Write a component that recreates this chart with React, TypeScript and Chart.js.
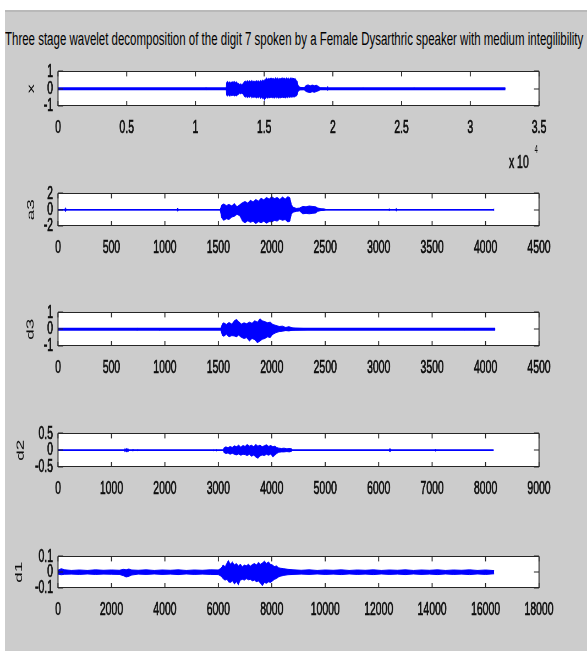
import React, { useEffect, useLayoutEffect, useRef } from "react";
import { Chart, registerables } from "chart.js";

Chart.register(...registerables);

// ---------------- DATA ----------------
const TITLE =
  "Three stage wavelet decomposition of the digit 7 spoken by a Female Dysarthric speaker with medium integilibility";

// subplot 1: x  (sample index, upper / lower envelope of the waveform)
const X_T = [
  0, 10740, 10760, 10780, 12230,
  12260, 12340, 12420, 12500, 12580, 12660, 12740, 12820, 12900, 12980,
  13060, 13140, 13220, 13300, 13380, 13460, 13540, 13620, 13700, 13780,
  13860, 13940, 14020, 14100, 14180, 14260, 14340, 14420, 14500, 14580,
  14660, 14740, 14820, 14900, 14980, 15020, 15100, 15180, 15260, 15340,
  15420, 15500, 15580, 15660, 15740, 15820, 15900, 15980, 16060, 16140,
  16220, 16300, 16380, 16460, 16540, 16620, 16700, 16780, 16860, 16940,
  17020, 17100, 17180, 17260, 17340, 17420, 17480,
  17600, 17900, 18050, 18200, 18350, 18500, 18650, 18800, 18950, 19100,
  19500, 19590, 19610, 19630, 22180, 22200, 22220, 25880, 25900, 25920, 32550,
];
const X_UP = [
  0, 0, 0.06, 0, 0,
  0.36, 0.42, 0.34, 0.4, 0.33, 0.41, 0.36, 0.43, 0.35, 0.4,
  0.32, 0.3, 0.24, 0.28, 0.22, 0.3, 0.38, 0.45, 0.39, 0.47,
  0.4, 0.46, 0.41, 0.48, 0.4, 0.45, 0.39, 0.47, 0.42, 0.46,
  0.4, 0.48, 0.43, 0.5, 0.45, 0.5, 0.55, 0.62, 0.54, 0.6,
  0.55, 0.63, 0.56, 0.6, 0.54, 0.64, 0.57, 0.62, 0.55, 0.6,
  0.56, 0.64, 0.58, 0.62, 0.55, 0.63, 0.57, 0.61, 0.55, 0.64,
  0.58, 0.62, 0.55, 0.6, 0.48, 0.42, 0.18,
  0.08, 0.05, 0.18, 0.22, 0.16, 0.21, 0.17, 0.2, 0.13, 0.04,
  0.03, 0, 0.12, 0, 0, 0.05, 0, 0, 0.05, 0, 0,
];
const X_LO = [
  0, 0, -0.06, 0, 0,
  -0.38, -0.42, -0.36, -0.44, -0.37, -0.41, -0.35, -0.43, -0.38, -0.42,
  -0.36, -0.32, -0.26, -0.3, -0.25, -0.32, -0.42, -0.5, -0.44, -0.52,
  -0.46, -0.5, -0.44, -0.53, -0.47, -0.51, -0.45, -0.55, -0.48, -0.53,
  -0.47, -0.56, -0.5, -0.58, -0.52, -0.68, -0.56, -0.5, -0.55, -0.49,
  -0.54, -0.47, -0.53, -0.5, -0.55, -0.48, -0.53, -0.49, -0.55, -0.5,
  -0.54, -0.47, -0.52, -0.49, -0.54, -0.48, -0.52, -0.47, -0.51, -0.46,
  -0.5, -0.45, -0.49, -0.44, -0.42, -0.35, -0.15,
  -0.06, -0.05, -0.16, -0.2, -0.22, -0.17, -0.21, -0.16, -0.12, -0.04,
  -0.03, 0, -0.1, 0, 0, -0.04, 0, 0, -0.04, 0, 0,
];
const X_END = 32550;

// subplot 2: a3
const A3_T = [
  0, 60, 70, 80, 1110, 1120, 1130, 1515,
  1530, 1550, 1575, 1600, 1625, 1650, 1675, 1700, 1725, 1750,
  1775, 1800, 1825, 1850, 1875, 1900, 1925, 1950, 1975, 2000,
  2025, 2050, 2075, 2100, 2125, 2150, 2170, 2185,
  2200, 2230, 2260, 2290, 2320, 2350, 2380, 2410, 2430, 2460, 2490, 2510,
  3090, 3100, 3110, 3155, 3165, 3175, 4070, 4080,
];
const A3_UP = [
  0, 0, 0.25, 0, 0, 0.2, 0, 0,
  0.55, 0.7, 0.5, 0.65, 0.45, 0.75, 0.35, 0.6, 0.85, 1.0,
  0.8, 1.15, 0.95, 1.25, 1.05, 1.4, 1.2, 1.5, 1.3, 1.6,
  1.35, 1.5, 1.25, 1.55, 1.3, 1.6, 1.45, 0.6,
  0.3, 0.15, 0.2, 0.4, 0.35, 0.45, 0.4, 0.35, 0.2, 0.12, 0.1, 0,
  0, 0.1, 0, 0, 0.15, 0, 0, 0.1,
];
const A3_LO = [
  0, 0, -0.25, 0, 0, -0.2, 0, 0,
  -1.0, -1.3, -1.1, -1.2, -0.9, -0.8, -0.55, -0.75, -1.4, -1.6,
  -1.35, -1.55, -1.4, -1.7, -1.45, -1.6, -1.4, -1.65, -1.45, -1.5,
  -1.3, -1.4, -1.15, -1.3, -1.2, -1.5, -1.4, -0.5,
  -0.3, -0.2, -0.15, -0.5, -0.45, -0.5, -0.45, -0.4, -0.2, -0.1, -0.08, 0,
  0, -0.1, 0, 0, -0.15, 0, 0, -0.1,
];
const A3_END = 4080;

// subplot 3: d3
const D3_T = [
  0, 730, 740, 750, 940, 950, 960, 1520,
  1535, 1550, 1575, 1600, 1625, 1650, 1670, 1690, 1715, 1740,
  1765, 1790, 1815, 1840, 1865, 1890, 1910, 1935, 1960, 1985,
  2010, 2040, 2070, 2100, 2130, 2160, 2190, 2220, 2260, 2300, 2330, 2345,
  3790, 3800, 3810, 4090,
];
const D3_UP = [
  0, 0, 0.05, 0, 0, 0.05, 0, 0,
  0.3, 0.38, 0.28, 0.4, 0.3, 0.5, 0.58, 0.45, 0.3, 0.38,
  0.32, 0.42, 0.35, 0.5, 0.42, 0.62, 0.5, 0.45, 0.38, 0.42,
  0.28, 0.22, 0.16, 0.18, 0.1, 0.15, 0.08, 0.06, 0.05, 0.04, 0.03, 0,
  0, 0.04, 0, 0,
];
const D3_LO = [
  0, 0, -0.05, 0, 0, -0.05, 0, 0,
  -0.35, -0.42, -0.3, -0.45, -0.38, -0.4, -0.45, -0.35, -0.48, -0.55,
  -0.5, -0.7, -0.55, -0.62, -0.8, -0.7, -0.6, -0.55, -0.45, -0.5,
  -0.3, -0.2, -0.14, -0.12, -0.08, -0.1, -0.06, -0.05, -0.04, -0.03, -0.02, 0,
  0, -0.04, 0, 0,
];
const D3_END = 4090;

// subplot 4: d2
const D2_T = [
  0, 1240, 1250, 1265, 1280, 1295, 1310, 1330, 1395, 1400,
  1405, 1485, 1490, 1495, 2895, 2905, 2915, 2955, 2965, 2975,
  3090, 3100, 3140, 3180, 3220, 3260, 3300, 3340, 3380, 3420,
  3460, 3500, 3540, 3580, 3620, 3660, 3700, 3740, 3780, 3820,
  3860, 3900, 3940, 3980, 4020, 4060, 4090, 4130, 4180, 4230,
  4280, 4330, 4370, 4390,
  6195, 6205, 6215, 6225, 6235, 7055, 7060, 7065, 8150,
];
const D2_UP = [
  0, 0, 0.05, 0.02, 0.05, 0.03, 0.05, 0, 0, 0.03,
  0, 0, 0.02, 0, 0, 0.02, 0, 0, 0.02, 0,
  0, 0.06, 0.1, 0.07, 0.11, 0.08, 0.13, 0.1, 0.15, 0.09,
  0.14, 0.11, 0.17, 0.12, 0.15, 0.1, 0.17, 0.12, 0.15, 0.1,
  0.13, 0.16, 0.11, 0.14, 0.1, 0.12, 0.08, 0.06, 0.05, 0.06,
  0.04, 0.05, 0.04, 0,
  0, 0.05, 0, 0.05, 0, 0, 0.03, 0, 0,
];
const D2_LO = [
  0, 0, -0.05, -0.02, -0.05, -0.03, -0.05, 0, 0, -0.03,
  0, 0, -0.02, 0, 0, -0.02, 0, 0, -0.02, 0,
  0, -0.06, -0.1, -0.08, -0.12, -0.09, -0.12, -0.14, -0.11, -0.15,
  -0.12, -0.13, -0.16, -0.12, -0.18, -0.14, -0.2, -0.24, -0.17, -0.14,
  -0.16, -0.12, -0.15, -0.11, -0.2, -0.14, -0.1, -0.06, -0.05, -0.05,
  -0.04, -0.05, -0.03, 0,
  0, -0.05, 0, -0.05, 0, 0, -0.03, 0, 0,
];
const D2_END = 8150;

// subplot 5: d1
const D1_T = [
  0, 120, 250, 500, 800, 1100, 1400, 1700, 2000, 2300,
  2450, 2550, 2650, 2750, 3000, 3300, 3600, 3900, 4200, 4500,
  4800, 5100, 5400, 5700, 6000,
  6100, 6175, 6250, 6325, 6375, 6450, 6525, 6600, 6675, 6750,
  6825, 6900, 6975, 7050, 7125, 7200, 7275, 7350, 7425, 7500,
  7575, 7650, 7725, 7800, 7875, 7950, 8025, 8100, 8175, 8250, 8325,
  8450, 8600, 8800, 9100, 9400, 9700, 10000, 10300, 10600, 10900,
  11200, 11500, 11800, 12100, 12400, 12700, 13000, 13300, 13600, 13900,
  14200, 14500, 14800, 15100, 15400, 15700, 16000, 16320,
];
const D1_UP = [
  0.012, 0.022, 0.015, 0.011, 0.014, 0.011, 0.015, 0.012, 0.014, 0.012,
  0.018, 0.015, 0.02, 0.014, 0.012, 0.015, 0.011, 0.014, 0.012, 0.015,
  0.011, 0.014, 0.012, 0.015, 0.014,
  0.025, 0.045, 0.035, 0.06, 0.075, 0.05, 0.065, 0.045, 0.055, 0.04,
  0.05, 0.035, 0.045, 0.04, 0.05, 0.038, 0.048, 0.055, 0.045, 0.062,
  0.05, 0.058, 0.07, 0.055, 0.065, 0.05, 0.045, 0.035, 0.04, 0.028, 0.025,
  0.022, 0.018, 0.015, 0.012, 0.015, 0.011, 0.014, 0.012, 0.015, 0.011,
  0.014, 0.012, 0.015, 0.011, 0.014, 0.012, 0.015, 0.011, 0.014, 0.012,
  0.015, 0.011, 0.014, 0.012, 0.015, 0.011, 0.014, 0.01,
];
const D1_LO = [
  -0.012, -0.016, -0.013, -0.012, -0.014, -0.011, -0.014, -0.012, -0.013, -0.014,
  -0.022, -0.03, -0.026, -0.018, -0.012, -0.014, -0.011, -0.014, -0.012, -0.015,
  -0.011, -0.014, -0.012, -0.014, -0.015,
  -0.025, -0.04, -0.05, -0.045, -0.06, -0.065, -0.055, -0.075, -0.06, -0.08,
  -0.05, -0.045, -0.05, -0.04, -0.048, -0.045, -0.055, -0.05, -0.06, -0.055,
  -0.07, -0.085, -0.065, -0.07, -0.06, -0.065, -0.055, -0.045, -0.04, -0.03, -0.025,
  -0.02, -0.016, -0.014, -0.012, -0.014, -0.011, -0.014, -0.012, -0.015, -0.011,
  -0.014, -0.012, -0.015, -0.011, -0.014, -0.012, -0.015, -0.011, -0.014, -0.012,
  -0.015, -0.011, -0.014, -0.012, -0.015, -0.011, -0.014, -0.01,
];
const D1_END = 16320;

// ---------------- STYLE / LAYOUT ----------------
const BLUE = "#0000ff";
const EDGE = "#262626";
const TEXT = "#0d0d0d";
const FONT = '"Liberation Sans", Arial, Helvetica, sans-serif';
const FONT_SIZE = 19;
const W = 1067; // unscaled canvas width
const K = 587 / W; // horizontal squeeze of the whole figure
const PLOT_LEFT = 58 / K;
const PLOT_RIGHT = 539 / K;
const PAD_TOP = 14;
const XAXIS_H = 40;
const TICK_LEN = 5;

type Spec = {
  label: string;
  t: number[];
  up: number[];
  lo: number[];
  end: number;
  baseW: number;
  xMax: number;
  xStep: number;
  xFmt: (v: number) => string;
  yMin: number;
  yMax: number;
  yStep: number;
  top: number;
  h: number;
  titleX: number;
};

const fmt = (v: number) => String(Math.round(v * 1000) / 1000);

const SPECS: Spec[] = [
  { label: "x", t: X_T, up: X_UP, lo: X_LO, end: X_END, baseW: 3, xMax: 35000, xStep: 5000, xFmt: (v) => fmt(v / 10000), yMin: -1, yMax: 1, yStep: 1, top: 65, h: 41, titleX: 31.5 },
  { label: "a3", t: A3_T, up: A3_UP, lo: A3_LO, end: A3_END, baseW: 1.5, xMax: 4500, xStep: 500, xFmt: fmt, yMin: -2, yMax: 2, yStep: 2, top: 187, h: 39, titleX: 31 },
  { label: "d3", t: D3_T, up: D3_UP, lo: D3_LO, end: D3_END, baseW: 3, xMax: 4500, xStep: 500, xFmt: fmt, yMin: -1, yMax: 1, yStep: 1, top: 306, h: 40, titleX: 30.5 },
  { label: "d2", t: D2_T, up: D2_UP, lo: D2_LO, end: D2_END, baseW: 1.5, xMax: 9000, xStep: 1000, xFmt: fmt, yMin: -0.5, yMax: 0.5, yStep: 0.5, top: 427, h: 40, titleX: 21 },
  { label: "d1", t: D1_T, up: D1_UP, lo: D1_LO, end: D1_END, baseW: 0, xMax: 18000, xStep: 2000, xFmt: fmt, yMin: -0.1, yMax: 0.1, yStep: 0.1, top: 550, h: 38, titleX: 19 },
];

const boxPlugin = {
  id: "matlabBox",
  beforeDraw(chart: any) {
    const { ctx, chartArea: a } = chart;
    ctx.save();
    ctx.fillStyle = "#ffffff";
    ctx.fillRect(a.left, a.top, a.right - a.left, a.bottom - a.top);
    ctx.restore();
  },
  afterDraw(chart: any) {
    const { ctx, chartArea: a, scales } = chart;
    const vw = 1 / K;
    ctx.save();
    ctx.fillStyle = EDGE;
    ctx.fillRect(a.left, Math.round(a.top), a.right - a.left, 1);
    ctx.fillRect(a.left, Math.round(a.bottom) - 1, a.right - a.left, 1);
    ctx.fillRect(a.left - vw / 2, a.top, vw, a.bottom - a.top);
    ctx.fillRect(a.right - vw / 2, a.top, vw, a.bottom - a.top);
    scales.x.ticks.forEach((t: any) => {
      const px = scales.x.getPixelForValue(t.value);
      ctx.fillRect(px - vw / 2, a.top, vw, TICK_LEN);
      ctx.fillRect(px - vw / 2, a.bottom - TICK_LEN, vw, TICK_LEN);
    });
    scales.y.ticks.forEach((t: any) => {
      const py = Math.round(scales.y.getPixelForValue(t.value));
      ctx.fillRect(a.left, py - 0.5, TICK_LEN / K, 1);
      ctx.fillRect(a.right - TICK_LEN / K, py - 0.5, TICK_LEN / K, 1);
    });
    ctx.restore();
  },
};

function Subplot({ s }: { s: Spec }) {
  const ref = useRef<HTMLCanvasElement | null>(null);
  useEffect(() => {
    if (!ref.current) return;
    const n = Math.min(s.t.length, s.up.length, s.lo.length);
    const upper = s.t.slice(0, n).map((x, i) => ({ x, y: s.up[i] }));
    const lower = s.t.slice(0, n).map((x, i) => ({ x, y: s.lo[i] }));
    const datasets: any[] = [
      { data: upper, borderColor: BLUE, backgroundColor: BLUE, borderWidth: 1, pointRadius: 0, fill: "+1" },
      { data: lower, borderColor: BLUE, backgroundColor: BLUE, borderWidth: 1, pointRadius: 0, fill: false },
    ];
    if (s.baseW > 0) {
      datasets.push({
        data: [
          { x: 0, y: 0 },
          { x: s.end, y: 0 },
        ],
        borderColor: BLUE,
        borderWidth: s.baseW,
        pointRadius: 0,
        fill: false,
      });
    }
    const pl = s.titleX / K - (FONT_SIZE * 1.2) / 2;
    const font = { family: FONT, size: FONT_SIZE };
    const chart = new Chart(ref.current, {
      type: "line",
      data: { datasets },
      options: {
        animation: false,
        responsive: false,
        maintainAspectRatio: false,
        devicePixelRatio: 1,
        events: [],
        layout: { padding: { left: pl, right: W - PLOT_RIGHT, top: PAD_TOP, bottom: 0 } },
        plugins: { legend: { display: false }, tooltip: { enabled: false }, title: { display: false } },
        scales: {
          x: {
            type: "linear",
            min: 0,
            max: s.xMax,
            grid: { display: false, drawTicks: false },
            border: { display: false },
            ticks: {
              stepSize: s.xStep,
              autoSkip: false,
              maxRotation: 0,
              padding: 10,
              color: TEXT,
              textStrokeColor: TEXT,
              textStrokeWidth: 0.7,
              font,
              callback: (v: any) => s.xFmt(Number(v)),
            },
            afterFit: (sc: any) => {
              sc.height = XAXIS_H;
            },
          },
          y: {
            type: "linear",
            min: s.yMin,
            max: s.yMax,
            grid: { display: false, drawTicks: false },
            border: { display: false },
            ticks: {
              stepSize: s.yStep,
              autoSkip: false,
              padding: 9,
              color: TEXT,
              textStrokeColor: TEXT,
              textStrokeWidth: 0.7,
              font,
              callback: (v: any) => fmt(Number(v)),
            },
            title: { display: true, text: s.label, color: TEXT, font, padding: 0 },
            afterFit: (sc: any) => {
              sc.width = PLOT_LEFT - pl;
            },
          },
        },
      } as any,
      plugins: [boxPlugin],
    });
    return () => chart.destroy();
  }, [s]);
  return (
    <div style={{ position: "absolute", left: 0, top: s.top - PAD_TOP, width: W, height: PAD_TOP + s.h + XAXIS_H }}>
      <canvas ref={ref} width={W} height={PAD_TOP + s.h + XAXIS_H} />
    </div>
  );
}

export default function App() {
  const titleRef = useRef<HTMLDivElement | null>(null);
  useLayoutEffect(() => {
    const el = titleRef.current;
    if (!el) return;
    el.style.transform = "none";
    const w = el.scrollWidth;
    el.style.transform = `scaleX(${578 / w})`;
  }, []);
  return (
    <div style={{ position: "fixed", left: 0, top: 0, width: 587, height: 651, background: "#ffffff", overflow: "hidden" }}>
      <div style={{ position: "absolute", left: 5, top: 10, right: 0, bottom: 0, background: "#cccccc", borderTop: "2px solid #b9b9b9" }} />
      <div
        ref={titleRef}
        style={{
          position: "absolute",
          left: 5,
          top: 30,
          whiteSpace: "nowrap",
          fontFamily: FONT,
          fontSize: 18,
          lineHeight: "18px",
          color: "#000",
          transformOrigin: "0 0",
          display: "inline-block",
        }}
      >
        {TITLE}
      </div>
      <div style={{ position: "absolute", left: 0, top: 0, width: W, height: 651, transform: `scaleX(${K})`, transformOrigin: "0 0" }}>
        {SPECS.map((s) => (
          <Subplot key={s.label} s={s} />
        ))}
        <span style={{ position: "absolute", left: 509 / K, top: 152, fontFamily: FONT, fontSize: 19, lineHeight: "19px", color: TEXT, whiteSpace: "nowrap", WebkitTextStroke: "0.7px #0d0d0d" }}>
          x 10
        </span>
        <span style={{ position: "absolute", left: 534.5 / K, top: 144, fontFamily: FONT, fontSize: 11, lineHeight: "11px", color: TEXT }}>
          4
        </span>
      </div>
    </div>
  );
}
